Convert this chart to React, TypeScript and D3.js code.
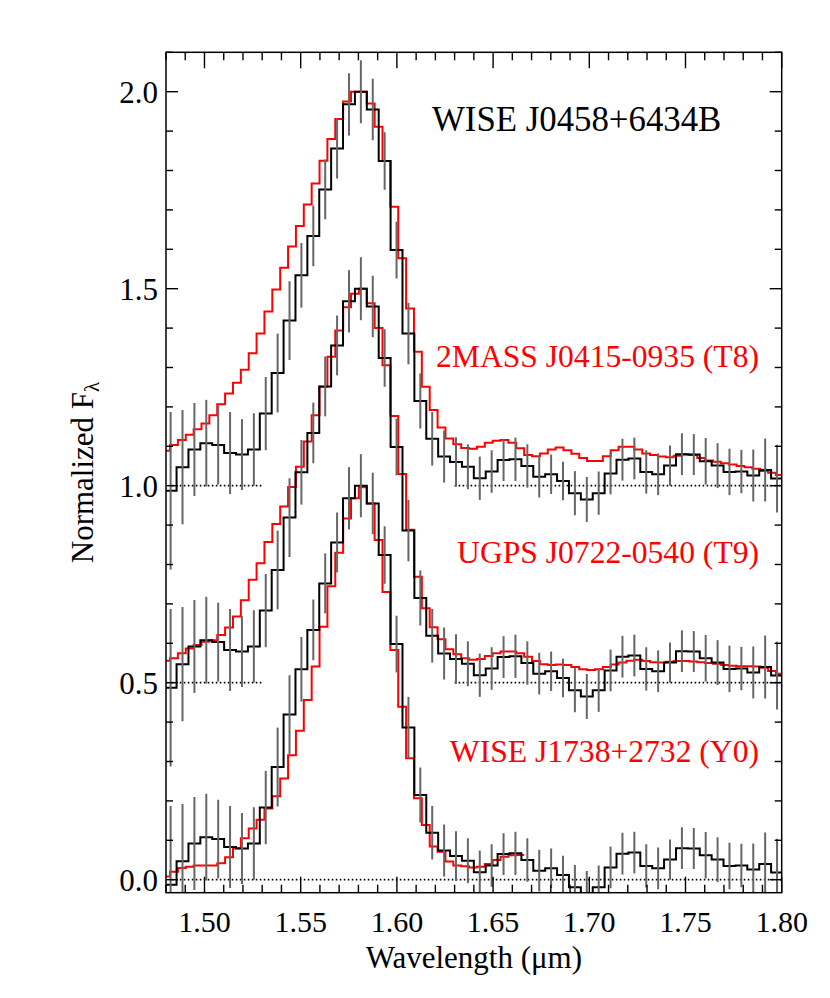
import React from "react";
import * as d3 from "d3";

// ---- data ----
// target spectrum (WISE J0458+6434B), binned; centres on a uniform grid
const blackStart = 1.4824;
const blackStep = 0.00618;
const blackFlux = [
  -0.013, 0.047, 0.092, 0.108, 0.103, 0.083, 0.079, 0.092, 0.183, 0.286,
  0.419, 0.534, 0.634, 0.752, 0.856, 0.968, 1.0, 0.955, 0.824, 0.598,
  0.386, 0.215, 0.119, 0.074, 0.06, 0.048, 0.019, 0.036, 0.065, 0.067,
  0.05, 0.023, 0.029, 0.012, -0.019, -0.035, -0.019, 0.031, 0.066, 0.069,
  0.035, 0.029, 0.051, 0.08, 0.079, 0.062, 0.051, 0.035, 0.036, 0.026,
  0.04, 0.018,
];
const blackErr = [
  0.2, 0.145, 0.118, 0.11, 0.1, 0.104, 0.09, 0.092, 0.093, 0.1,
  0.1, 0.082, 0.077, 0.076, 0.076, 0.079, 0.08, 0.078, 0.073, 0.072,
  0.078, 0.07, 0.068, 0.066, 0.063, 0.057, 0.055, 0.054, 0.053, 0.055,
  0.055, 0.053, 0.05, 0.049, 0.056, 0.057, 0.055, 0.053, 0.053, 0.053,
  0.055, 0.053, 0.051, 0.053, 0.052, 0.059, 0.057, 0.059, 0.055, 0.066,
  0.08, 0.086,
];

// comparison spectra, left bin edge of first bin and bin width
const redStart = 1.478;
const redStep = 0.00409;
const red2MASS = [
  0.089, 0.103, 0.116, 0.129, 0.143, 0.158, 0.179, 0.207, 0.234, 0.261,
  0.294, 0.336, 0.386, 0.442, 0.498, 0.553, 0.607, 0.659, 0.714, 0.767,
  0.825, 0.88, 0.931, 0.975, 1.0, 1.0, 0.97, 0.911, 0.824, 0.708,
  0.577, 0.45, 0.34, 0.251, 0.192, 0.148, 0.12, 0.105, 0.096, 0.094,
  0.099, 0.109, 0.114, 0.116, 0.109, 0.095, 0.078, 0.075, 0.082, 0.092,
  0.097, 0.09, 0.081, 0.07, 0.063, 0.063, 0.075, 0.09, 0.099, 0.099,
  0.092, 0.082, 0.078, 0.074, 0.072, 0.076, 0.079, 0.078, 0.07, 0.064,
  0.061, 0.057, 0.054, 0.05, 0.047, 0.043, 0.037, 0.033, 0.027,
];
const redUGPS = [
  0.056, 0.062, 0.075, 0.087, 0.096, 0.104, 0.108, 0.121, 0.14, 0.168,
  0.209, 0.261, 0.303, 0.357, 0.403, 0.447, 0.497, 0.548, 0.612, 0.679,
  0.751, 0.827, 0.894, 0.953, 0.987, 1.0, 0.963, 0.9, 0.806, 0.677,
  0.53, 0.388, 0.269, 0.189, 0.141, 0.11, 0.085, 0.072, 0.062, 0.058,
  0.06, 0.068, 0.075, 0.079, 0.079, 0.075, 0.066, 0.055, 0.047, 0.045,
  0.046, 0.045, 0.04, 0.034, 0.032, 0.034, 0.04, 0.046, 0.051, 0.056,
  0.058, 0.055, 0.052, 0.051, 0.053, 0.055, 0.055, 0.054, 0.052, 0.05,
  0.048, 0.045, 0.043, 0.042, 0.042, 0.041, 0.038, 0.03, 0.023,
];
const redW1738 = [
  0.008, 0.02, 0.03, 0.033, 0.036, 0.036, 0.036, 0.042, 0.057, 0.08,
  0.105, 0.13, 0.152, 0.181, 0.212, 0.257, 0.316, 0.378, 0.456, 0.541,
  0.642, 0.745, 0.83, 0.917, 0.968, 0.996, 0.955, 0.862, 0.73, 0.583,
  0.439, 0.308, 0.207, 0.139, 0.084, 0.071, 0.046, 0.036, 0.034, 0.031,
  0.033, 0.04, 0.05, 0.058, 0.062, 0.063,
];

const comparisons = [
  { label: "2MASS J0415-0935 (T8)", values: red2MASS, offset: 1.0 },
  { label: "UGPS J0722-0540 (T9)", values: redUGPS, offset: 0.5 },
  { label: "WISE J1738+2732 (Y0)", values: redW1738, offset: 0.0 },
];
const labelBaselines = [367, 563, 762];
const titleText = "WISE J0458+6434B";
const xMajorTicks = [1.5, 1.55, 1.6, 1.65, 1.7, 1.75, 1.8];
const yMajorTicks = [0, 0.5, 1.0, 1.5, 2.0];
const dottedSegments = [
  { offset: 1.0, ranges: [[1.483, 1.53], [1.63, 1.8]] },
  { offset: 0.5, ranges: [[1.483, 1.53], [1.63, 1.8]] },
  { offset: 0.0, ranges: [[1.483, 1.8]] },
];

// ---- layout ----
const W = 830;
const H = 998;
const L = 166;
const R = 781.7;
const T = 52.3;
const B = 892.7;
const FONT = "'Liberation Serif', 'Times New Roman', Times, serif";

export default function App() {
  const x = d3.scaleLinear().domain([1.48, 1.8]).range([L, R]);
  const y = d3.scaleLinear().domain([-0.033, 2.1]).range([B, T]);
  const line = d3
    .line<[number, number]>()
    .x((d) => x(d[0]))
    .y((d) => y(d[1]));

  const stepPts = (firstEdge: number, step: number, vals: number[], off: number) => {
    const pts: [number, number][] = [];
    vals.forEach((v, i) => {
      const l = firstEdge + i * step;
      pts.push([l, v + off]);
      pts.push([l + step, v + off]);
    });
    return pts;
  };

  const xMinor = d3.range(0, 33).map((i) => 1.48 + i * 0.01);
  const yMinor = d3.range(0, 22).map((i) => i * 0.1);
  const isMajorX = (v: number) => xMajorTicks.some((m) => Math.abs(m - v) < 1e-6);
  const isMajorY = (v: number) => yMajorTicks.some((m) => Math.abs(m - v) < 1e-6);

  const offsets = [1.0, 0.5, 0.0];

  return (
    <svg
      width={W}
      height={H}
      style={{ position: "absolute", left: 0, top: 0, background: "#fff" }}
      fontFamily={FONT}
    >
      <defs>
        <clipPath id="plotclip">
          <rect x={L} y={T} width={R - L} height={B - T} />
        </clipPath>
      </defs>
      <rect x={0} y={0} width={W} height={H} fill="#fff" />

      <g clipPath="url(#plotclip)">
        {/* dotted zero levels */}
        {dottedSegments.map((s, i) =>
          s.ranges.map((r, j) => (
            <line
              key={`d${i}-${j}`}
              x1={x(r[0])}
              x2={x(r[1])}
              y1={y(s.offset)}
              y2={y(s.offset)}
              stroke="#000"
              strokeWidth={1.8}
              strokeDasharray="1.6,2.4"
            />
          ))
        )}
        {/* red comparison spectra */}
        {comparisons.map((c, i) => (
          <path
            key={`r${i}`}
            d={line(stepPts(redStart, redStep, c.values, c.offset)) || ""}
            fill="none"
            stroke="#ff0000"
            strokeWidth={2}
          />
        ))}
        {/* black target spectrum, three copies */}
        {offsets.map((off, i) => (
          <path
            key={`b${i}`}
            d={line(stepPts(blackStart - blackStep / 2, blackStep, blackFlux, off)) || ""}
            fill="none"
            stroke="#000"
            strokeWidth={2}
          />
        ))}
        {/* error bars */}
        {offsets.map((off, i) =>
          blackFlux.map((v, k) => {
            const cx = x(blackStart + k * blackStep);
            return (
              <line
                key={`e${i}-${k}`}
                x1={cx}
                x2={cx}
                y1={y(v + off - blackErr[k])}
                y2={y(v + off + blackErr[k])}
                stroke="#666"
                strokeWidth={2}
              />
            );
          })
        )}
      </g>

      {/* frame */}
      <rect x={L} y={T} width={R - L} height={B - T} fill="none" stroke="#000" strokeWidth={1.5} />

      {/* x ticks */}
      {xMinor.map((v, i) => {
        const len = isMajorX(v) ? 16 : 8;
        const px = x(v);
        return (
          <g key={`xt${i}`} stroke="#000" strokeWidth={1.4}>
            <line x1={px} x2={px} y1={B} y2={B - len} />
            <line x1={px} x2={px} y1={T} y2={T + len} />
          </g>
        );
      })}
      {/* y ticks */}
      {yMinor.map((v, i) => {
        const len = isMajorY(v) ? 12 : 7;
        const py = y(v);
        return (
          <g key={`yt${i}`} stroke="#000" strokeWidth={1.4}>
            <line x1={L} x2={L + len} y1={py} y2={py} />
            <line x1={R} x2={R - len} y1={py} y2={py} />
          </g>
        );
      })}

      {/* tick labels */}
      {xMajorTicks.map((v, i) => (
        <text key={`xl${i}`} x={x(v)} y={931.5} fontSize={30} textAnchor="middle" fill="#000">
          {v.toFixed(2)}
        </text>
      ))}
      {yMajorTicks.map((v, i) => (
        <text key={`yl${i}`} x={158} y={y(v) + 11} fontSize={31} textAnchor="end" fill="#000">
          {v.toFixed(1)}
        </text>
      ))}

      {/* axis titles */}
      <text x={(L + R) / 2} y={968} fontSize={31} textAnchor="middle" fill="#000">
        Wavelength (μm)
      </text>
      <text
        transform={`translate(93, ${(T + B) / 2}) rotate(-90)`}
        fontSize={31}
        textAnchor="middle"
        fill="#000"
      >
        Normalized F<tspan fontSize={21} dy={6}>λ</tspan>
      </text>

      {/* title and labels */}
      <text x={432} y={131} fontSize={34.8} fill="#000">
        {titleText}
      </text>
      {comparisons.map((c, i) => (
        <text key={`lab${i}`} x={759} y={labelBaselines[i]} fontSize={31.6} textAnchor="end" fill="#ff0000">
          {c.label}
        </text>
      ))}
    </svg>
  );
}
